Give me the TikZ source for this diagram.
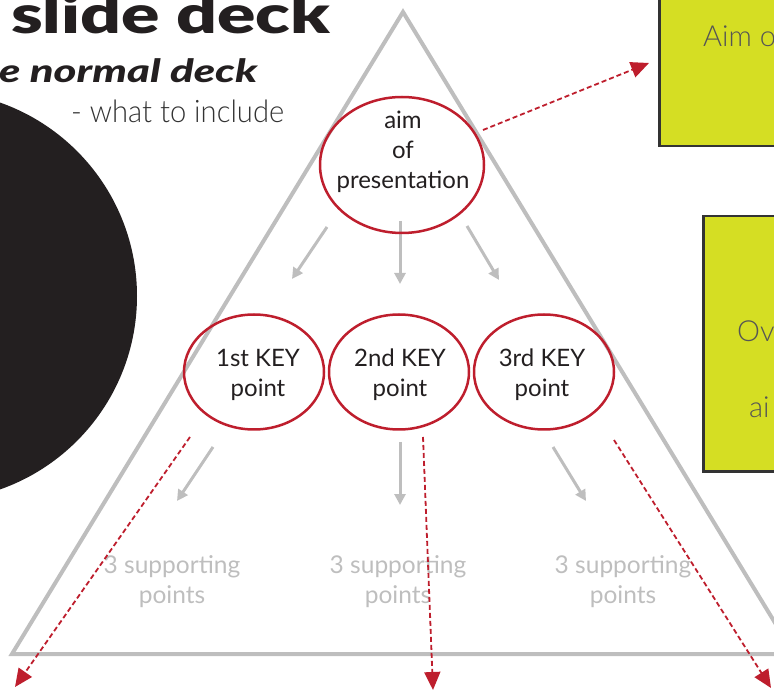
\documentclass[tikz,border=0pt]{standalone}
\usepackage{fontspec}
\usepackage{graphicx}
\setmainfont{Lato}
\IfFontExistsTF{Lato Black}{\newfontfamily\heavyfont{Lato Black}}{\newfontfamily\heavyfont{Lato}[FakeBold=3]}
\IfFontExistsTF{Lato Black Italic}{\newfontfamily\heavyitfont{Lato Black Italic}}{\newfontfamily\heavyitfont{Lato Bold Italic}}
\IfFontExistsTF{Lato Light}{\newfontfamily\lightfont{Lato Light}}{\newfontfamily\lightfont{Lato}}
\newcommand{\stacklines}[1]{\begin{tabular}[t]{@{}c@{}}#1\end{tabular}}
\usetikzlibrary{shapes.geometric,arrows.meta}
\definecolor{tri}{HTML}{BEBEBE}
\definecolor{redc}{HTML}{BE1E2D}
\definecolor{greenc}{HTML}{D5DE23}
\definecolor{boxline}{HTML}{333333}
\definecolor{ink}{HTML}{231F20}
\definecolor{darktext}{HTML}{333333}
\definecolor{boxtext}{HTML}{555555}
\tikzset{
  keyell/.style={ellipse, draw=redc, line width=2.5pt, inner sep=0pt},
  elltext/.style={anchor=base, inner sep=0pt, text=ink, font=\fontsize{24}{30}\selectfont},
  grayarrow/.style={draw=tri, line width=3pt, -{Triangle[length=11pt,width=11pt]}},
  reddash/.style={draw=redc, line width=1.8pt, dash pattern=on 5pt off 3pt,
    -{Triangle[length=18pt,width=16pt]}},
  supp/.style={anchor=base, text=tri, font=\fontsize{24.5}{30}\selectfont, inner sep=0pt},
  greenbox/.style={draw=boxline, fill=greenc, line width=2.5pt, anchor=north west},
  boxlabel/.style={anchor=base west, inner sep=0pt, text=boxtext, font=\lightfont\fontsize{29}{29}\selectfont}
}
\begin{document}
\begin{tikzpicture}[x=1pt,y=-1pt]
\useasboundingbox (0,0) rectangle (774,692);
% black disc
\fill[ink] (-68,296) circle (205pt);
% titles
\node[anchor=base west, inner sep=0pt, text=ink] (title) at (11,34)
  {\resizebox{319pt}{\height}{\heavyfont\fontsize{53}{53}\selectfont slide deck}};
\node[anchor=base west, inner sep=0pt, text=ink] (sub) at (-1,83)
  {\resizebox{258pt}{\height}{\heavyitfont\fontsize{32}{32}\selectfont e normal deck}};
\node[anchor=base west, inner sep=0pt, text=darktext] (what) at (71,123)
  {\resizebox{213pt}{\height}{\lightfont\fontsize{31}{31}\selectfont - what to include}};
% green boxes
\node[greenbox, minimum width=150pt, minimum height=160pt] (box1) at (658,-15) {};
\node[boxlabel] (box1t) at (703,47) {Aim o};
\node[greenbox, minimum width=100pt, minimum height=255pt] (box2) at (702,215) {};
\node[boxlabel] (box2a) at (737,342) {Ov};
\node[boxlabel] (box2b) at (749,418) {ai};
% triangle
\draw[tri, line width=4pt] (403,12) coordinate (apex) -- (12,654) coordinate (bl)
  -- (794,654) coordinate (br) -- cycle;
% gray arrows
\coordinate (a1s) at (327,227); \coordinate (a1e) at (292,279);
\coordinate (a2s) at (400,221); \coordinate (a2e) at (400,284);
\coordinate (a3s) at (467,226); \coordinate (a3e) at (499,280);
\draw[grayarrow] (a1s) -- (a1e);
\draw[grayarrow] (a2s) -- (a2e);
\draw[grayarrow] (a3s) -- (a3e);
\coordinate (b1s) at (213,447); \coordinate (b1e) at (177,501);
\coordinate (b2s) at (400,442); \coordinate (b2e) at (400,505);
\coordinate (b3s) at (553,447); \coordinate (b3e) at (586,501);
\draw[grayarrow] (b1s) -- (b1e);
\draw[grayarrow] (b2s) -- (b2e);
\draw[grayarrow] (b3s) -- (b3e);
% ellipses
\node[keyell, minimum width=164pt, minimum height=136pt] (aim) at (402,165) {};
\node[elltext] (aimt) at (403,129) {\stacklines{aim\\of\\presentation}};
\node[keyell, minimum width=140pt, minimum height=115pt] (k1) at (254,372) {};
\node[keyell, minimum width=140pt, minimum height=115pt] (k2) at (399,372) {};
\node[keyell, minimum width=140pt, minimum height=115pt] (k3) at (544,372) {};
\node[elltext] (k1t) at (258,367) {\stacklines{1st KEY\\point}};
\node[elltext] (k2t) at (400,367) {\stacklines{2nd KEY\\point}};
\node[elltext] (k3t) at (542,367) {\stacklines{3rd KEY\\point}};
% supporting points
\node[supp] (s1) at (172,573) {\stacklines{3 supporting\\points}};
\node[supp] (s2) at (398,573) {\stacklines{3 supporting\\points}};
\node[supp] (s3) at (623,573) {\stacklines{3 supporting\\points}};
% red dashed arrows
\coordinate (r0s) at (483,130); \coordinate (r0e) at (649,63);
\coordinate (r1s) at (190,437); \coordinate (r1e) at (15,687);
\coordinate (r2s) at (423,437); \coordinate (r2e) at (433,690);
\coordinate (r3s) at (614,440); \coordinate (r3e) at (771,688);
\draw[reddash] (r0s) -- (r0e);
\draw[reddash] (r1s) -- (r1e);
\draw[reddash] (r2s) -- (r2e);
\draw[reddash] (r3s) -- (r3e);
\end{tikzpicture}
\end{document}
